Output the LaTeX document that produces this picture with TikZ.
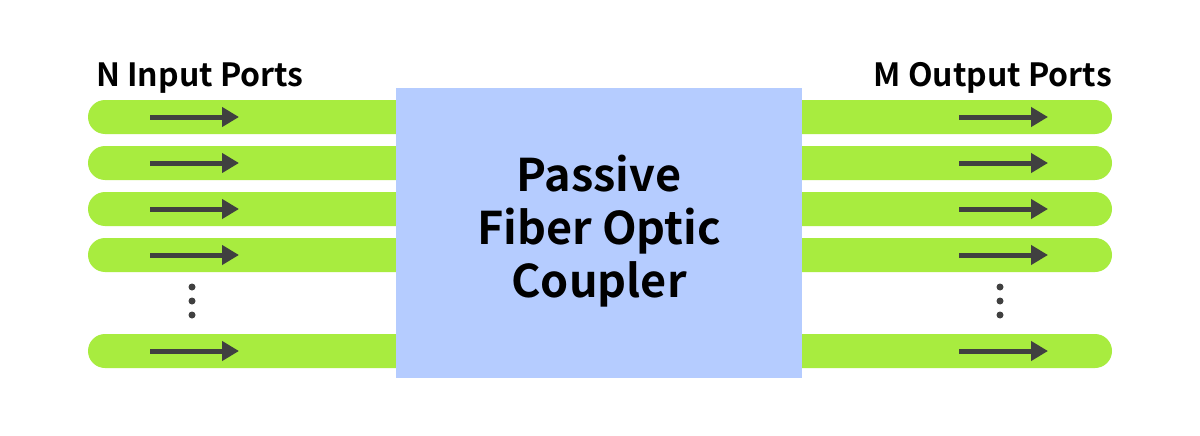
\documentclass[tikz,border=0pt]{standalone}
\usepackage{fontspec}
\setmainfont{Noto Sans CJK SC}[BoldFont={Noto Sans CJK SC Bold}]
\usetikzlibrary{arrows.meta}
\definecolor{fibergreen}{HTML}{A8EC3F}
\definecolor{boxblue}{HTML}{B5CCFF}
\definecolor{arrowgray}{HTML}{404040}
\tikzset{
  fiberbar/.style={fill=fibergreen, draw=none, rounded corners=17pt},
  flowarrow/.style={draw=arrowgray, line width=5pt, -{Triangle[length=17pt,width=19pt]}},
  dotmark/.style={circle, fill=arrowgray, inner sep=0pt, minimum size=7pt},
  portlabel/.style={font=\bfseries\fontsize{32}{38}\selectfont, inner sep=0pt},
}
\begin{document}
\begin{tikzpicture}[x=1pt,y=-1pt]
\useasboundingbox (0,0) rectangle (1200,436);
\fill[white] (0,0) rectangle (1200,436);
% bars
\foreach \yc in {117,163,209,255,351}{
  \fill[fiberbar] (88,\yc-17) rectangle (430,\yc+17);
  \fill[fiberbar] (770,\yc-17) rectangle (1112,\yc+17);
}
% coupler box
\node[fill=boxblue, draw=none, minimum width=406pt, minimum height=290pt, inner sep=0pt, anchor=north west] (coupler) at (396,88) {};
\node[font=\bfseries\fontsize{45}{53}\selectfont, align=center, inner sep=0pt] (ctext) at (599,231) {Passive\\Fiber Optic\\Coupler};
% arrows
\foreach \i/\yc in {1/117,2/163,3/209,4/255,5/351}{
  \coordinate (ls\i) at (150,\yc);
  \coordinate (le\i) at (239,\yc);
  \coordinate (rs\i) at (959,\yc);
  \coordinate (re\i) at (1048,\yc);
  \draw[flowarrow] (ls\i) -- (le\i);
  \draw[flowarrow] (rs\i) -- (re\i);
}
% dots
\foreach \yc in {287,301,315}{
  \node[dotmark] at (192,\yc) {};
  \node[dotmark] at (1000,\yc) {};
}
% labels
\node[portlabel, anchor=base west] (inlabel) at (96,87) {N Input Ports};
\node[portlabel, anchor=base east] (outlabel) at (1112,87) {M Output Ports};
\end{tikzpicture}
\end{document}
